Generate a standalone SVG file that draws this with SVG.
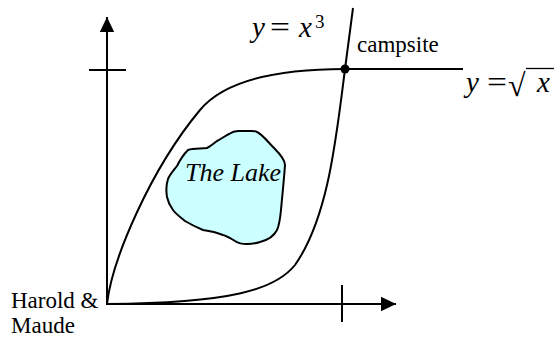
<svg xmlns="http://www.w3.org/2000/svg" width="556" height="337" viewBox="0 0 556 337">
<style>
.ln{fill:none;stroke:#000;stroke-width:2}
text{font-family:'Liberation Serif','Times New Roman',serif;fill:#000}
.it{font-style:italic}
.m{font-size:29px}
</style>
<defs>
<marker id="ah" markerWidth="16" markerHeight="16" refX="15" refY="8" orient="auto" markerUnits="userSpaceOnUse">
<path d="M0,0.8 L15,8 L0,15.2 Z" fill="#000"/>
</marker>
</defs>
<rect width="556" height="337" fill="#fff"/>
<g id="axes">
<line class="ln" x1="107" y1="305" x2="107" y2="17" marker-end="url(#ah)"/>
<line class="ln" x1="106" y1="304" x2="396" y2="304" marker-end="url(#ah)"/>
<line class="ln" x1="89" y1="70" x2="126" y2="70"/>
<line class="ln" x1="342" y1="285" x2="342" y2="322"/>
</g>
<g id="connectors">
<path id="sqrt-path" class="ln" d="M107,304 C112,260 150,170 200,110 C225,80 280,69 345,69 L463,69"/>
<path id="cube-path" class="ln" d="M107,304 C230,303 275,290 295,265 C328,218 336,140 345,69 L353,8"/>
</g>
<g id="lake">
<path d="M257,132 C262,134 268,142 274,148 C280,154 285,160 285,165 C284,180 282,198 281,210 C280,220 279,226 277,230 C274,236 268,240 260,242 C254,244 250,244 247,244 C242,244 238,243 235,241 C230,238 227,236 223,235 C218,233 210,231 203,230 C196,227 190,224 185,221 C180,217 176,214 173,210 C170,206 168,202 167,197 C166,191 166,185 168,179 C170,174 174,170 177,166 C180,160 184,154 188,150 C194,148 202,149 207,148 C211,146 214,143 217,141 C221,139 225,136 229,134 C232,132 235,131 238,131 C242,131 248,131 252,131 C254,131 256,131 257,132 Z" fill="#ccffff" stroke="#000" stroke-width="2"/>
<text class="it" x="185" y="181" font-size="26">The Lake</text>
</g>
<g id="campsite">
<circle cx="345" cy="69" r="4.5" fill="#000"/>
<text x="357" y="52" font-size="23">campsite</text>
</g>
<g id="label-cube">
<text class="m it" x="252" y="37">y</text>
<text class="m" x="270" y="37" textLength="20" lengthAdjust="spacingAndGlyphs">=</text>
<text class="m it" x="299" y="37">x</text>
<text x="315" y="28" font-size="19">3</text>
</g>
<g id="label-sqrt">
<text class="m it" x="466" y="92">y</text>
<text class="m" x="487" y="92" textLength="20" lengthAdjust="spacingAndGlyphs">=</text>
<text x="508" y="96" font-size="32">√</text>
<line x1="526" y1="68.5" x2="554" y2="68.5" stroke="#000" stroke-width="1.3"/>
<text class="m it" x="537" y="92">x</text>
</g>
<g id="origin-label">
<text x="11" y="308" font-size="23">Harold &amp;</text>
<text x="11" y="333" font-size="23">Maude</text>
</g>
</svg>
